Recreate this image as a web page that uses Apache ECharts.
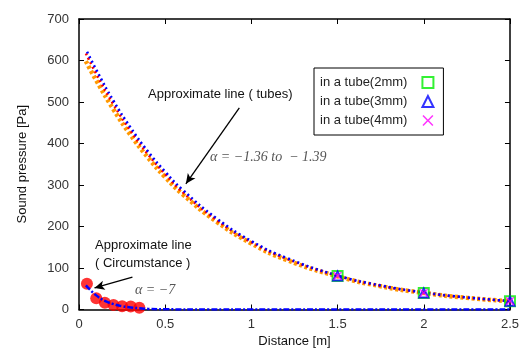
<!DOCTYPE html>
<html><head><meta charset="utf-8">
<script src="https://cdn.jsdelivr.net/npm/echarts@6/dist/echarts.min.js"></script>
<style>html,body{margin:0;padding:0;background:#fff}#c{width:522px;height:354px}</style>
</head><body><div id="c"></div>
<script>
// ---- data ----
const xTicks = [0, 0.5, 1, 1.5, 2, 2.5];
const yTicks = [0, 100, 200, 300, 400, 500, 600, 700];

const tubeFitX = [0.04, 0.1, 0.2, 0.3, 0.4, 0.5, 0.6, 0.8, 1.0, 1.2, 1.5, 1.75, 2.0, 2.25, 2.5];
const tubeFitBlue   = [627, 578, 503, 438, 381, 332, 289, 219, 165, 125, 82, 58, 41, 29, 20.5];
const tubeFitRed    = [617, 568, 494, 430, 374, 326, 283, 215, 162, 123, 81, 57, 40.5, 28.6, 20.2];
const tubeFitOrange = [598, 552, 482, 420, 366, 319, 278, 211, 159, 120, 80, 56, 40, 28, 20];

const circX = [0.046, 0.1, 0.15, 0.2, 0.25, 0.3, 0.35];
const circY = [62, 27, 16, 11, 8, 7, 4];

const circFitX = [0.04, 0.1, 0.15, 0.2, 0.25, 0.3, 0.35, 0.4, 0.5, 0.75, 1.0, 1.5, 2.0, 2.5];
const circFitY = [58, 34, 21, 13, 8, 5, 3, 1.5, 0.5, 0, 0, 0, 0, 0];

const measX = [1.5, 2, 2.5];
const tube2mm = [81, 40, 20];
const tube3mm = [81, 40, 20];
const tube4mm = [81, 40, 20];

const legendNames = ['in a tube(2mm)', 'in a tube(3mm)', 'in a tube(4mm)'];

function pairs(xs, ys) { return xs.map((x, i) => [x, ys[i]]); }

const crossPath = 'path://M0,1L1,0L5,4L9,0L10,1L6,5L10,9L9,10L5,6L1,10L0,9L4,5Z';

const chart = echarts.init(document.getElementById('c'));
const axisCommon = {
  type: 'value',
  axisLine: { show: true, onZero: false, lineStyle: { color: '#000', width: 1.5 } },
  axisTick: { show: true, inside: true, length: 5, lineStyle: { color: '#000', width: 1 } },
  splitLine: { show: false }
};
const labelStyle = { color: '#333', fontSize: 13, fontFamily: 'Liberation Sans, Arial, sans-serif' };

chart.setOption({
  animation: false,
  backgroundColor: '#fff',
  grid: { left: 79, right: 11, top: 19, bottom: 44.5, containLabel: false },
  xAxis: [
    Object.assign({}, axisCommon, {
      position: 'bottom', min: xTicks[0], max: xTicks[xTicks.length - 1], interval: 0.5,
      axisLabel: Object.assign({ margin: 8, formatter: v => String(v) }, labelStyle),
      name: 'Distance [m]', nameLocation: 'middle', nameGap: 25,
      nameTextStyle: { color: '#111', fontSize: 13, fontFamily: 'Liberation Sans, Arial, sans-serif' }
    }),
    Object.assign({}, axisCommon, {
      position: 'top', min: xTicks[0], max: xTicks[xTicks.length - 1], interval: 0.5,
      axisLabel: { show: false }
    })
  ],
  yAxis: [
    Object.assign({}, axisCommon, {
      position: 'left', min: yTicks[0], max: yTicks[yTicks.length - 1], interval: 100,
      axisLabel: Object.assign({ margin: 10 }, labelStyle),
      name: 'Sound pressure [Pa]', nameLocation: 'middle', nameGap: 50,
      nameTextStyle: { color: '#111', fontSize: 13, fontFamily: 'Liberation Sans, Arial, sans-serif' }
    }),
    Object.assign({}, axisCommon, {
      position: 'right', min: yTicks[0], max: yTicks[yTicks.length - 1], interval: 100,
      axisLabel: { show: false }
    })
  ],
  legend: {
    data: legendNames,
    orient: 'vertical',
    left: 314, top: 68,
    align: 'right',
    itemWidth: 11, itemHeight: 11, itemGap: 6,
    padding: [8, 9, 8, 6],
    borderColor: '#000', borderWidth: 1,
    backgroundColor: '#fff',
    textStyle: { color: '#222', fontSize: 13, fontFamily: 'Liberation Sans, Arial, sans-serif', padding: [0, 10, 0, 0] }
  },
  series: [
    {
      name: 'fitOrange', type: 'line', smooth: true, symbol: 'none',
      data: pairs(tubeFitX, tubeFitOrange),
      lineStyle: { color: '#ff9900', width: 4.5, type: [3, 2.5] }, z: 2
    },
    {
      name: 'fitRed', type: 'line', smooth: true, symbol: 'none',
      data: pairs(tubeFitX, tubeFitRed),
      lineStyle: { color: '#ff0000', width: 2.5, type: [2, 3] }, z: 3
    },
    {
      name: 'fitBlue', type: 'line', smooth: true, symbol: 'none',
      data: pairs(tubeFitX, tubeFitBlue),
      lineStyle: { color: '#0000ff', width: 2.5, type: [2, 3], dashOffset: 2 }, z: 4
    },
    {
      name: 'circ', type: 'scatter', symbol: 'circle', symbolSize: 12,
      data: pairs(circX, circY),
      itemStyle: { color: '#ff0000' }, z: 5,
      markLine: {
        silent: true, symbol: ['none', 'arrow'], symbolSize: [7, 10],
        label: { show: false },
        lineStyle: { color: '#000', width: 1.3, type: 'solid' },
        data: [
          [{ coord: [0.93, 486] }, { coord: [0.62, 303] }],
          [{ coord: [0.31, 78] }, { coord: [0.09, 52] }]
        ]
      }
    },
    {
      name: 'circFit', type: 'line', smooth: true, symbol: 'none',
      data: pairs(circFitX, circFitY),
      lineStyle: { color: '#0000ff', width: 2.5, type: [6, 2, 2, 2] }, z: 6
    },
    {
      name: legendNames[0], type: 'scatter', symbol: 'rect', symbolSize: 10,
      data: pairs(measX, tube2mm),
      itemStyle: { color: 'rgba(0,0,0,0)', borderColor: '#00ee00', borderWidth: 2 }, z: 7
    },
    {
      name: legendNames[1], type: 'scatter', symbol: 'triangle', symbolSize: 9,
      data: pairs(measX, tube3mm),
      itemStyle: { color: 'rgba(0,0,0,0)', borderColor: '#0000ff', borderWidth: 2 }, z: 8
    },
    {
      name: legendNames[2], type: 'scatter', symbol: crossPath, symbolSize: 9,
      data: pairs(measX, tube4mm),
      itemStyle: { color: '#ff00ff' }, z: 9
    }
  ],
  graphic: [
    { type: 'text', left: 148, top: 88, z: 100,
      style: { text: 'Approximate line ( tubes)', font: '13px "Liberation Sans", Arial, sans-serif', fill: '#111' } },
    { type: 'text', left: 210, top: 150, z: 100,
      style: { text: 'α = −1.36 to  − 1.39', font: 'italic 14px "Liberation Serif", serif', fill: '#555' } },
    { type: 'text', left: 95, top: 239, z: 100,
      style: { text: 'Approximate line', font: '13px "Liberation Sans", Arial, sans-serif', fill: '#111' } },
    { type: 'text', left: 95, top: 257, z: 100,
      style: { text: '( Circumstance )', font: '13px "Liberation Sans", Arial, sans-serif', fill: '#111' } },
    { type: 'text', left: 135, top: 283, z: 100,
      style: { text: 'α = −7', font: 'italic 14px "Liberation Serif", serif', fill: '#555' } }
  ]
});
</script>
</body></html>
